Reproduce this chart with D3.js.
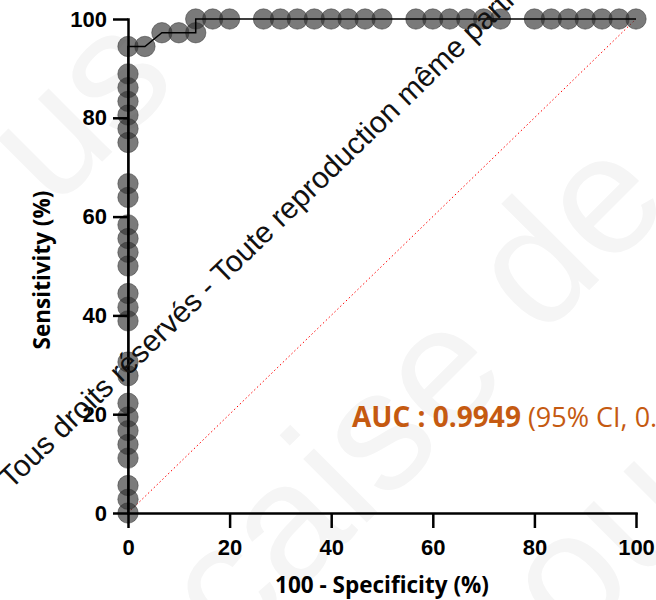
<!DOCTYPE html>
<html>
<head>
<meta charset="utf-8">
<script src="https://cdn.jsdelivr.net/npm/d3@7"></script>
<style>
  body { margin: 0; background: #fff; }
  svg { display: block; }
  .axis path, .axis line { stroke: #000; stroke-width: 2.5; }
  .axis text { font-family: "Liberation Sans", Arial, sans-serif; font-weight: bold; font-size: 22px; fill: #000; }
  .title { font-family: "Open Sans", sans-serif; font-weight: bold; font-size: 22.5px; fill: #000; }
</style>
</head>
<body>
<svg width="656" height="600"></svg>
<script>
// ROC points: 100 - specificity (%) and sensitivity (%)
var fpr = [0, 0, 0, 0, 0, 0, 0, 0, 0, 0, 0, 0, 0, 0, 0, 0, 0, 0, 0, 0, 0, 0, 0, 0, 0, 0,
           3.33, 6.67, 10, 13.33, 13.33, 16.67, 20, 26.67, 30, 33.33, 36.67, 40, 43.33, 46.67, 50,
           56.67, 60, 63.33, 66.67, 70, 73.33, 80, 83.33, 86.67, 90, 93.33, 96.67, 100];
var sens = [0, 2.78, 5.56, 11.11, 13.89, 16.67, 19.44, 22.22, 27.78, 30.56, 38.89, 41.67, 44.44,
            50, 52.78, 55.56, 58.33, 63.89, 66.67, 75, 77.78, 80.56, 83.33, 86.11, 88.89, 94.44,
            94.44, 97.22, 97.22, 97.22, 100, 100, 100, 100, 100, 100, 100, 100, 100, 100, 100,
            100, 100, 100, 100, 100, 100, 100, 100, 100, 100, 100, 100, 100];
// line of identity
var refX = [0, 100];
var refY = [0, 100];
var xTicks = [0, 20, 40, 60, 80, 100];
var yTicks = [0, 20, 40, 60, 80, 100];

var svg = d3.select("svg");
var margin = {top: 19, left: 128},
    width = 508,
    height = 494;

var data = fpr.map(function(d, i) { return {x: d, y: sens[i]}; });
var ref = refX.map(function(d, i) { return {x: d, y: refY[i]}; });

var x = d3.scaleLinear().domain([0, 100]).range([0, width]);
var y = d3.scaleLinear().domain([0, 100]).range([height, 0]);

// faint background watermark
var faint = [
  {t: "us", cx: 75, cy: 105},
  {t: "çaise", cx: 330, cy: 475},
  {t: "de", cx: 565, cy: 230},
  {t: "ou", cx: 597, cy: 541}
];
svg.selectAll(".faint")
    .data(faint)
  .enter().append("text")
    .attr("class", "faint")
    .attr("transform", function(d) { return "translate(" + d.cx + "," + d.cy + ") rotate(-45)"; })
    .attr("text-anchor", "middle")
    .attr("dy", "0.35em")
    .style("font-family", "Liberation Sans, Arial, sans-serif")
    .style("font-size", "170px")
    .style("fill", "#f5f5f5")
    .text(function(d) { return d.t; });

var g = svg.append("g").attr("transform", "translate(" + margin.left + "," + margin.top + ")");

// reference diagonal
g.append("path")
    .datum(ref)
    .attr("fill", "none")
    .attr("stroke", "#ff0000")
    .attr("stroke-width", 1)
    .attr("stroke-dasharray", "1.5,2.5")
    .attr("d", d3.line().x(function(d) { return x(d.x); }).y(function(d) { return y(d.y); }));

// points
g.selectAll(".pt")
    .data(data)
  .enter().append("circle")
    .attr("class", "pt")
    .attr("cx", function(d) { return x(d.x); })
    .attr("cy", function(d) { return y(d.y); })
    .attr("r", 10.2)
    .style("fill", "#333")
    .style("fill-opacity", 0.65)
    .style("stroke", "#333")
    .style("stroke-opacity", 0.5)
    .style("stroke-width", 1);

// ROC curve
g.append("path")
    .datum(data)
    .attr("fill", "none")
    .attr("stroke", "#000")
    .attr("stroke-width", 1.5)
    .attr("d", d3.line().x(function(d) { return x(d.x); }).y(function(d) { return y(d.y); }));

// axes
g.append("g")
    .attr("class", "axis")
    .attr("transform", "translate(0," + height + ")")
    .call(d3.axisBottom(x).tickValues(xTicks).tickSize(15).tickSizeOuter(0).tickPadding(11))
    .selectAll("text").attr("dy", "0.71em");

g.append("g")
    .attr("class", "axis")
    .call(d3.axisLeft(y).tickValues(yTicks).tickSize(15).tickSizeOuter(0).tickPadding(6));

g.selectAll(".axis .domain").attr("stroke-linecap", "square");

// axis titles
svg.append("text")
    .attr("class", "title")
    .attr("x", margin.left + width / 2)
    .attr("y", 593)
    .attr("text-anchor", "middle")
    .text("100 - Specificity (%)");

svg.append("text")
    .attr("class", "title")
    .attr("transform", "translate(50," + (margin.top + height / 2 + 4) + ") rotate(-90)")
    .attr("text-anchor", "middle")
    .text("Sensitivity (%)");

// AUC annotation
var auc = svg.append("text")
    .attr("x", 352)
    .attr("y", 427)
    .style("font-family", "Open Sans, sans-serif")
    .style("font-size", "28px")
    .style("fill", "#c55a11");
auc.append("tspan").style("font-weight", "bold").text("AUC : 0.9949");
auc.append("tspan").style("font-size", "27px").text(" (95% CI, 0.");

// copyright watermark
svg.append("text")
    .attr("transform", "translate(11,490) rotate(-44)")
    .style("font-family", "Liberation Sans, Arial, sans-serif")
    .style("font-size", "30px")
    .style("fill", "#111")
    .text("Tous droits réservés - Toute reproduction même partielle interdite");
</script>
</body>
</html>
